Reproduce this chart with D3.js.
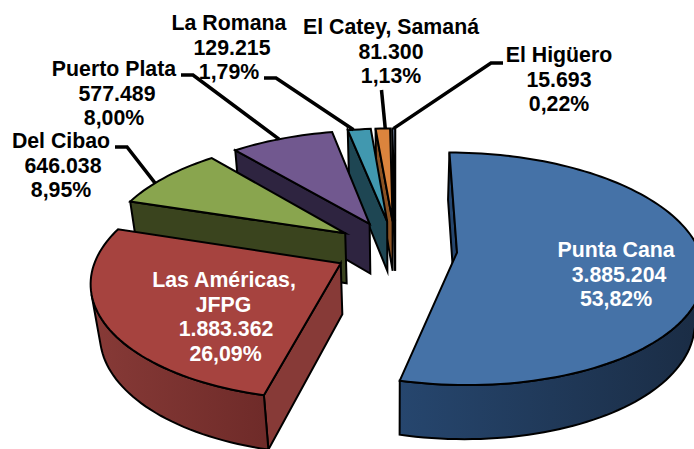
<!DOCTYPE html>
<html><head><meta charset="utf-8">
<script src="https://cdn.jsdelivr.net/npm/d3@7/dist/d3.min.js"></script>
<style>html,body{margin:0;padding:0;background:#fff;overflow:hidden}svg{display:block}
text{font-family:"Liberation Sans",Arial,sans-serif;font-weight:700;font-size:21.3px}</style>
</head><body><script>
const categories = ["Punta Cana","Las Américas,|JFPG","Del Cibao","Puerto Plata","La Romana","El Catey, Samaná","El Higüero"];
const values = [3885204,1883362,646038,577489,129215,81300,15693];
const valueLabels = ["3.885.204","1.883.362","646.038","577.489","129.215","81.300","15.693"];
const percentLabels = ["53,82%","26,09%","8,95%","8,00%","1,79%","1,13%","0,22%"];
const topColors = ["#4572A7","#A6433F","#89A54E","#71588F","#4198AF","#DB843D","#93A9CF"];
const wallLeft  = ["#26466E","#873A37","#3A441E","#2E2440","#1E4653","#8A5223","#39425A"];
const wallRight = ["#1A2C44","#6F2B29","#3A441E","#2E2440","#1E4653","#6E3F18","#39425A"];

// Layout (per-line text centre x, first baseline, leader elbow)
const W=694,H=449;
const labelLayout = [
 {fill:"#fff",xs:[616,619,616],y:257},
 {fill:"#fff",xs:[224,223.5,226,225.5],y:287},
 {fill:"#000",xs:[61,63,61],y:148,lead:[115,127,147],rim:0.35},
 {fill:"#000",xs:[114,117,114],y:76,lead:[181,193,75],rim:0.47},
 {fill:"#000",xs:[229,232,229],y:30,lead:[264,276,78],rim:0.15},
 {fill:"#000",xs:[391,391,391],y:34,lead:[381.5,381.5,90],rim:0.5},
 {fill:"#000",xs:[559,559,559],y:62,lead:[503,491,63],rim:0.5}
];
const lineH=24.5;

// Perspective projection of the 3D pie
const cam={cx:395.5,cy:249,A:242,K:113,p:0.14,q:0.03,Hz:52,explode:0.255};
function project(X,Y,z){ // z 0 = top, 1 = bottom
  const w=1+cam.p*Y+cam.q*z;
  return [cam.cx+cam.A*X/w, cam.cy+(-cam.K*Y+cam.Hz*z)/w];
}
const pie=d3.pie().sort(null).value(d=>d)(values);
const slices=pie.map((d,i)=>{
  const mid=(d.startAngle+d.endAngle)/2;
  const ox=cam.explode*Math.sin(mid), oy=cam.explode*Math.cos(mid);
  const n=Math.max(2,Math.ceil((d.endAngle-d.startAngle)/0.03));
  const angles=d3.range(n+1).map(k=>d.startAngle+(d.endAngle-d.startAngle)*k/n);
  return {i,mid,ox,oy,angles,
    rim:z=>angles.map(a=>project(ox+Math.sin(a),oy+Math.cos(a),z)),
    apex:z=>project(ox,oy,z)};
});
const line=d3.line().curve(d3.curveLinear);
const svg=d3.select("body").append("svg").attr("width",W).attr("height",H);
const defs=svg.append("defs");
slices.forEach(s=>{
  const r=s.rim(0), ex=d3.extent(r,p=>p[0]);
  const g=defs.append("linearGradient").attr("id","wall"+s.i).attr("gradientUnits","userSpaceOnUse")
    .attr("x1",ex[0]).attr("x2",ex[1]).attr("y1",0).attr("y2",0);
  g.append("stop").attr("offset",0).attr("stop-color",wallLeft[s.i]);
  g.append("stop").attr("offset",1).attr("stop-color",wallRight[s.i]);
});
const area=P=>d3.polygonArea(P);
const stroke={stroke:"#000","stroke-width":2,"stroke-linejoin":"miter","stroke-miterlimit":6};
function poly(g,P,fill){
  const e=g.append("path").attr("d",line(P)+"Z").attr("fill",fill);
  Object.entries(stroke).forEach(([k,v])=>e.attr(k,v));
}
const order=slices.slice().sort((a,b)=>Math.cos(b.mid)-Math.cos(a.mid));
const gp=svg.append("g");
order.forEach(s=>{
  const g=gp.append("g");
  const t=s.rim(0),b=s.rim(1),a0=s.apex(0),a1=s.apex(1);
  // radial walls (facing the viewer only)
  const w1=[a0,t[0],b[0],a1], w2=[a0,a1,b[b.length-1],t[t.length-1]];
  if(area(w1)>0) poly(g,w1,wallLeft[s.i]);
  if(area(w2)>0) poly(g,w2,wallLeft[s.i]);
  // outer wall: only the facets that face the viewer
  const vis=d3.range(t.length).filter(k=>k<t.length-1 &&
    area([t[k],t[k+1],b[k+1],b[k]])>0);
  if(vis.length){
    const k0=vis[0],k1=vis[vis.length-1]+1;
    poly(g,t.slice(k0,k1+1).concat(b.slice(k0,k1+1).reverse()),`url(#wall${s.i})`);
  }
  poly(g,[a0].concat(t),topColors[s.i]);
});
// leaders
labelLayout.forEach((l,i)=>{
  if(!l.lead) return;
  const s=slices[i];
  const p=s.rim(0)[Math.round((s.angles.length-1)*l.rim)];
  svg.append("path").attr("fill","none").attr("stroke","#000").attr("stroke-width",3.5)
    .attr("d",line([[l.lead[0],l.lead[2]],[l.lead[1],l.lead[2]],p]));
});
// labels
labelLayout.forEach((l,i)=>{
  const lines=categories[i].split("|").concat([valueLabels[i],percentLabels[i]]);
  const t=svg.append("text").attr("fill",l.fill).attr("text-anchor","middle");
  lines.forEach((s,k)=>t.append("tspan").attr("x",l.xs[k]).attr("y",l.y+k*lineH).text(s));
});
</script></body></html>
